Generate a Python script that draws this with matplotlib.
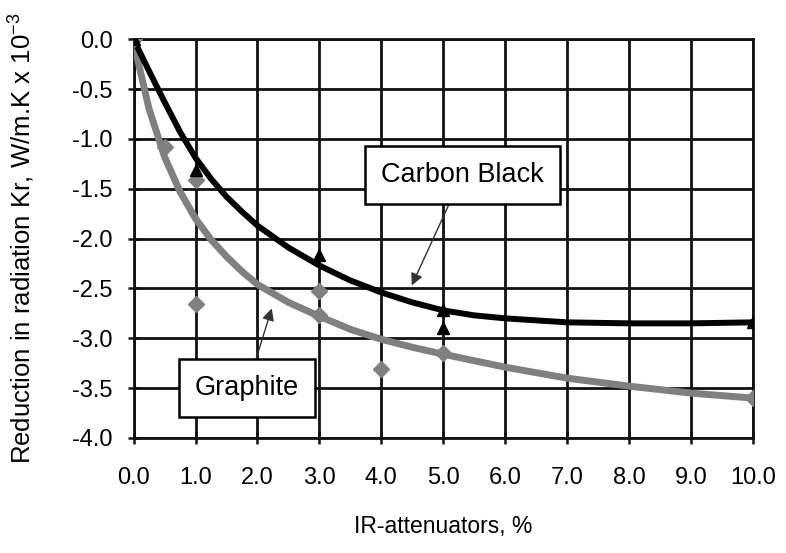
import numpy as np
import matplotlib
matplotlib.use("Agg")
import matplotlib.pyplot as plt

plt.rcParams["font.family"] = ["Liberation Sans", "DejaVu Sans"]

# measured points
cb_x = [0, 1, 3, 5, 5, 10]
cb_y = [0.0, -1.31, -2.16, -2.72, -2.90, -2.84]
gr_x = [0, 0.5, 1, 1, 3, 3, 4, 5, 10]
gr_y = [0.0, -1.08, -1.41, -2.66, -2.53, -2.77, -3.31, -3.15, -3.60]

# trend curves
cb_trend_x = [0, 0.25, 0.5, 0.75, 1, 1.25, 1.5, 1.75, 2, 2.5, 3, 3.5, 4, 4.5, 5,
              5.5, 6, 7, 8, 9, 10]
cb_trend_y = [0.0, -0.32, -0.63, -0.93, -1.19, -1.40, -1.58, -1.73, -1.87, -2.09,
              -2.27, -2.42, -2.54, -2.64, -2.72, -2.77, -2.80, -2.84, -2.85, -2.85, -2.84]
gr_trend_x = [0, 0.1, 0.25, 0.5, 0.75, 1, 1.25, 1.5, 1.75, 2, 2.5, 3, 3.5, 4, 4.5,
              5, 6, 7, 8, 9, 10]
gr_trend_y = [0.0, -0.30, -0.70, -1.18, -1.53, -1.80, -2.01, -2.18, -2.33, -2.46,
              -2.64, -2.78, -2.91, -3.01, -3.09, -3.16, -3.29, -3.40, -3.48, -3.55, -3.60]

xticks = np.arange(0, 10.5, 1.0)
yticks = np.arange(-4.0, 0.01, 0.5)

fig = plt.figure(figsize=(7.86, 5.53), dpi=100)
ax = fig.add_axes([0.170, 0.208, 0.788, 0.721])

gray = "#808080"
ax.plot(gr_trend_x, gr_trend_y, color=gray, lw=5.0, solid_capstyle="round",
        solid_joinstyle="round", zorder=3)
ax.plot(cb_trend_x, cb_trend_y, color="black", lw=4.3, solid_capstyle="round",
        solid_joinstyle="round", zorder=4)
ax.plot(gr_x, gr_y, ls="none", marker="D", ms=8, color=gray, zorder=5)
ax.plot(cb_x, cb_y, ls="none", marker="^", ms=9, color="black", zorder=6)

ax.set_xlim(0, 10)
ax.set_ylim(-4, 0)
ax.set_xticks(xticks)
ax.set_yticks(yticks)
ax.set_xticklabels([f"{v:.1f}" for v in xticks])
ax.set_yticklabels([f"{v:.1f}" for v in yticks])
ax.grid(True, color="#111111", lw=2.0)
ax.set_axisbelow(True)
for s in ax.spines.values():
    s.set_linewidth(2.0)
    s.set_color("#111111")
ax.tick_params(direction="inout", length=8, width=1.8, labelsize=17, pad=11,
               color="#111111")
ax.tick_params(axis="x", pad=17)

ax.set_xlabel("IR-attenuators, %", fontsize=16.5, va="center")
ax.set_ylabel("Reduction in radiation Kr, W/m.K x 10$^{\\mathregular{-3}}$",
              fontsize=18.5, va="center")
ax.xaxis.set_label_coords(0.5, -0.223)
ax.yaxis.set_label_coords(-0.183, 0.5)

box = dict(boxstyle="square,pad=0.6", fc="white", ec="black", lw=1.8)
ax.annotate("Carbon Black", xy=(4.49, -2.47), xytext=(5.31, -1.36),
            fontsize=19.5, ha="center", va="center", bbox=box, zorder=8,
            arrowprops=dict(arrowstyle="-|>", color="#333333", lw=1.0,
                            shrinkA=0, shrinkB=0, mutation_scale=18))
ax.annotate("Graphite", xy=(2.23, -2.70), xytext=(1.83, -3.50),
            fontsize=19.5, ha="center", va="center", bbox=box, zorder=8,
            arrowprops=dict(arrowstyle="-|>", color="#333333", lw=1.0,
                            shrinkA=0, shrinkB=0, mutation_scale=18))

fig.savefig("out.png", dpi=100)
